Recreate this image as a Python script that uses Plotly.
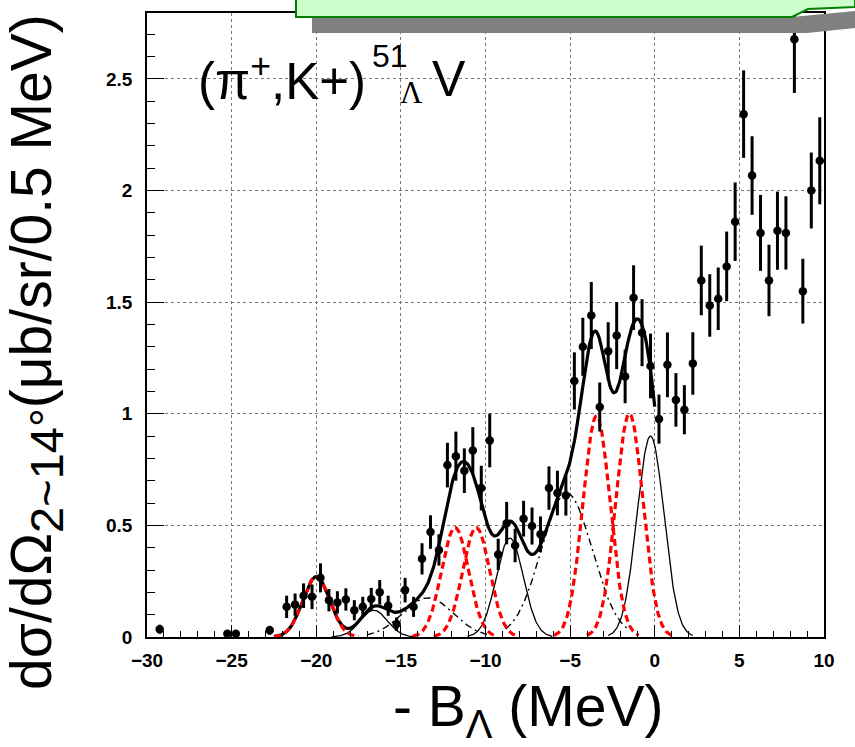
import numpy as np
import plotly.graph_objects as go

W, H = 855, 747
L, R, T, B = 147, 824, 11, 637
XMIN, XMAX, YMIN, YMAX = -30.0, 10.0, 0.0, 2.795

# ---- data (bin centres, MeV), cross sections and errors ----
x_bins = [-29.25, -25.25, -24.75, -22.75,
          -21.75, -21.25, -20.75, -20.25, -19.75, -19.25, -18.75, -18.25,
          -17.75, -17.25, -16.75, -16.25, -15.75, -15.25, -14.75, -14.25,
          -13.75, -13.25, -12.75, -12.25, -11.75, -11.25, -10.75, -10.25,
          -9.75, -9.25, -8.75, -8.25, -7.75, -7.25, -6.75, -6.25,
          -5.75, -5.25, -4.75, -4.25, -3.75, -3.25, -2.75, -2.25,
          -1.75, -1.25, -0.75, -0.25, 0.25, 0.75, 1.25, 1.75,
          2.25, 2.75, 3.25, 3.75, 4.25, 4.75, 5.25, 5.75,
          6.25, 6.75, 7.25, 7.75, 8.25, 8.75, 9.25, 9.75]
y_vals = [0.035, 0.015, 0.015, 0.03,
          0.135, 0.145, 0.185, 0.18, 0.265, 0.165, 0.155, 0.168,
          0.12, 0.135, 0.17, 0.2, 0.14, 0.058, 0.21, 0.135,
          0.35, 0.47, 0.39, 0.77, 0.81, 0.745, 0.835, 0.667,
          0.88, 0.37, 0.51, 0.41, 0.53, 0.497, 0.46, 0.667,
          0.645, 0.634, 1.147, 1.30, 1.44, 1.03, 1.28, 1.35,
          1.167, 1.52, 1.363, 1.214, 0.976, 1.219, 1.062, 1.018,
          1.225, 1.597, 1.485, 1.515, 1.66, 1.86, 2.342, 2.067,
          1.81, 1.597, 1.82, 1.81, 2.677, 1.549, 2.0, 2.133]
y_errs = [0.02, 0.012, 0.012, 0.02,
          0.05, 0.05, 0.055, 0.055, 0.065, 0.05, 0.05, 0.05,
          0.045, 0.045, 0.05, 0.055, 0.045, 0.03, 0.055, 0.045,
          0.07, 0.075, 0.07, 0.10, 0.11, 0.10, 0.105, 0.10,
          0.12, 0.07, 0.095, 0.075, 0.08, 0.083, 0.08, 0.097,
          0.10, 0.09, 0.128, 0.13, 0.15, 0.11, 0.13, 0.15,
          0.12, 0.145, 0.15, 0.145, 0.11, 0.145, 0.12, 0.11,
          0.14, 0.156, 0.14, 0.14, 0.156, 0.176, 0.196, 0.176,
          0.17, 0.16, 0.175, 0.164, 0.24, 0.145, 0.17, 0.195]

# ---- fit components (Gaussian peaks) ----
red_centers = [-20.0, -11.8, -10.55, -3.44, -1.5]
red_amps = [0.27, 0.49, 0.49, 0.99, 1.0]
thin_centers = [-16.6, -8.56, -0.25]
thin_amps = [0.12, 0.443, 0.9]
dd_centers = [-13.4, -5.2]
dd_amps = [0.175, 0.645]
sigma_narrow = 0.8
sigma_wide = 1.5
total_range = [-22.5, 0.0]


def gauss(x, c, a, s):
    return a * np.exp(-0.5 * ((x - c) / s) ** 2)


def total(x):
    y = np.zeros_like(x)
    for c, a in zip(red_centers, red_amps):
        y += gauss(x, c, a, sigma_narrow)
    for c, a in zip(thin_centers, thin_amps):
        y += gauss(x, c, a, sigma_narrow)
    for c, a in zip(dd_centers, dd_amps):
        y += gauss(x, c, a, sigma_wide)
    return y


fig = go.Figure()

# total fit (thick)
xt = np.linspace(total_range[0], total_range[1], 400)
fig.add_trace(go.Scatter(x=xt, y=total(xt), mode="lines",
                         line=dict(color="black", width=3.2), hoverinfo="skip"))

# thin solid components
for c, a in zip(thin_centers, thin_amps):
    xx = np.linspace(c - 2.5, c + 2.5, 120)
    fig.add_trace(go.Scatter(x=xx, y=gauss(xx, c, a, sigma_narrow), mode="lines",
                             line=dict(color="black", width=1.3), hoverinfo="skip"))
# dash-dot components
for c, a in zip(dd_centers, dd_amps):
    xx = np.linspace(c - 3.6, c + 3.6, 150)
    fig.add_trace(go.Scatter(x=xx, y=gauss(xx, c, a, sigma_wide), mode="lines",
                             line=dict(color="black", width=1.4, dash="7px,4px,2px,4px"),
                             hoverinfo="skip"))
# red dashed components
for c, a in zip(red_centers, red_amps):
    xx = np.linspace(c - 2.5, c + 2.5, 120)
    fig.add_trace(go.Scatter(x=xx, y=gauss(xx, c, a, sigma_narrow), mode="lines",
                             line=dict(color="#ff0000", width=3.2, dash="7px,4px"),
                             hoverinfo="skip"))

# data points
fig.add_trace(go.Scatter(x=x_bins, y=y_vals, mode="markers",
                         marker=dict(color="black", size=8.5),
                         error_y=dict(type="data", array=y_errs, color="black",
                                      thickness=3, width=0),
                         hoverinfo="skip"))


def px(xp):
    return (xp - L) / (R - L)


def py(yp):
    return (B - yp) / (B - T)


shapes = [
    # gray shadow
    dict(type="path", xref="paper", yref="paper",
         path=f"M {px(312)},{py(15)} L {px(792)},{py(15)} L {px(855)},{py(9)} "
              f"L {px(855)},{py(26)} L {px(807)},{py(31)} L {px(312)},{py(31)} Z",
         fillcolor="#808080", line=dict(width=0), layer="above"),
    # green box
    dict(type="path", xref="paper", yref="paper",
         path=f"M {px(296)},{py(-5)} L {px(296)},{py(15)} L {px(792)},{py(15)} "
              f"L {px(808)},{py(7)} L {px(855)},{py(5)} L {px(855)},{py(-5)} Z",
         fillcolor="#ccffcc", line=dict(color="#008000", width=2), layer="above"),
]

font_main = "Liberation Sans, Arial, Helvetica, sans-serif"

annotations = [
    dict(xref="paper", yref="paper", x=px(196), y=py(76), xanchor="left", yanchor="middle",
         text="(π<sup>+</sup>,K+)", showarrow=False,
         font=dict(family=font_main, size=51, color="black")),
    dict(xref="paper", yref="paper", x=px(370), y=py(54), xanchor="left", yanchor="middle",
         text="51", showarrow=False,
         font=dict(family=font_main, size=32, color="black")),
    dict(xref="paper", yref="paper", x=px(398), y=py(91), xanchor="left", yanchor="middle",
         text="Λ", showarrow=False,
         font=dict(family="Liberation Serif, Times New Roman, serif", size=31, color="black")),
    dict(xref="paper", yref="paper", x=px(430), y=py(77), xanchor="left", yanchor="middle",
         text="V", showarrow=False,
         font=dict(family=font_main, size=50, color="black")),
    # y-axis title
    dict(xref="paper", yref="paper", x=px(36), y=py(351), xanchor="center", yanchor="middle",
         text="dσ/dΩ<sub><span style=\"font-size:47px\">2~14°</span></sub>(μb/sr/0.5 MeV)",
         textangle=-90, showarrow=False,
         font=dict(family=font_main, size=57, color="black")),
    # x-axis title
    dict(xref="paper", yref="paper", x=px(528), y=py(710), xanchor="center", yanchor="middle",
         text="- B<sub>Λ</sub> (MeV)", showarrow=False,
         font=dict(family=font_main, size=57, color="black")),
]

tickfont = dict(family=font_main, size=19, color="black", weight="bold")

fig.update_layout(
    width=W, height=H,
    margin=dict(l=L, r=W - R, t=T, b=H - B, pad=0),
    paper_bgcolor="white", plot_bgcolor="white",
    showlegend=False,
    shapes=shapes,
    annotations=annotations,
    xaxis=dict(range=[XMIN, XMAX], dtick=5, tick0=0, ticks="inside", ticklen=12,
               tickwidth=1, tickcolor="black", showline=True, linecolor="black",
               linewidth=1.5, mirror=True, showgrid=True, gridcolor="#777777",
               griddash="dot", gridwidth=1, zeroline=False, tickfont=tickfont,
               ticklabelstandoff=5,
               minor=dict(dtick=1, ticklen=6, ticks="inside", tickcolor="black",
                          showgrid=False)),
    yaxis=dict(range=[YMIN, YMAX], dtick=0.5, tick0=0, ticks="inside", ticklen=17,
               tickwidth=1, tickcolor="black", showline=True, linecolor="black",
               linewidth=1.5, mirror=True, showgrid=True, gridcolor="#777777",
               griddash="dot", gridwidth=1, zeroline=False, tickfont=tickfont,
               ticklabelstandoff=9,
               minor=dict(dtick=0.1, ticklen=8, ticks="inside", tickcolor="black",
                          showgrid=False)),
)

fig.write_html("out.html")
